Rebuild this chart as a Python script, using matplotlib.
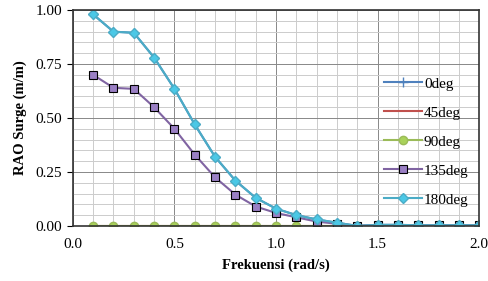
import numpy as np
import matplotlib.pyplot as plt
from matplotlib.ticker import MultipleLocator

freq = [0.1, 0.2, 0.3, 0.4, 0.5, 0.6, 0.7, 0.8, 0.9, 1.0,
        1.1, 1.2, 1.3, 1.4, 1.5, 1.6, 1.7, 1.8, 1.9, 2.0]
rao_0 = [0.98, 0.90, 0.895, 0.78, 0.635, 0.47, 0.32, 0.21, 0.13, 0.08,
         0.05, 0.03, 0.015, 0.0, 0.005, 0.005, 0.003, 0.003, 0.003, 0.003]
rao_45 = [0.0] * 20
rao_90 = [0.0] * 20
rao_135 = [0.70, 0.64, 0.635, 0.55, 0.45, 0.33, 0.225, 0.145, 0.09, 0.06,
           0.04, 0.02, 0.01, 0.0, 0.004, 0.003, 0.002, 0.002, 0.002, 0.002]
rao_180 = [0.98, 0.90, 0.895, 0.78, 0.635, 0.47, 0.32, 0.21, 0.13, 0.08,
           0.05, 0.03, 0.015, 0.0, 0.005, 0.005, 0.003, 0.003, 0.003, 0.003]

plt.rcParams['font.family'] = ['Liberation Serif', 'DejaVu Serif']

fig = plt.figure(figsize=(4.89, 2.81), dpi=100)
ax = fig.add_axes([0.149, 0.196, 0.831, 0.768])

ax.plot(freq, rao_0, color='#4f81bd', marker='+', ms=7, lw=1.5, label='0deg')
ax.plot(freq, rao_45, color='#c0504d', lw=1.5, label='45deg')
ax.plot(freq, rao_90, color='#9bbb59', marker='o', ms=6, mfc='#a9d25a',
        mec='#9bbb59', lw=1.5, label='90deg')
ax.plot(freq, rao_135, color='#8064a2', marker='s', ms=6, mfc='#9a7fc4',
        mec='black', mew=0.8, lw=1.5, label='135deg')
ax.plot(freq, rao_180, color='#4bacc6', marker='D', ms=5, mfc='#4bc8e6',
        mec='#4bacc6', lw=1.5, label='180deg')

ax.set_xlim(0, 2.0)
ax.set_ylim(0, 1.0)
ax.xaxis.set_major_locator(MultipleLocator(0.5))
ax.xaxis.set_minor_locator(MultipleLocator(0.1))
ax.yaxis.set_major_locator(MultipleLocator(0.25))
ax.yaxis.set_minor_locator(MultipleLocator(0.05))
ax.xaxis.set_major_formatter(plt.FormatStrFormatter('%.1f'))
ax.yaxis.set_major_formatter(plt.FormatStrFormatter('%.2f'))
ax.grid(which='major', color='#888888', lw=0.7)
ax.grid(which='minor', color='#cccccc', lw=0.7)
ax.set_axisbelow(True)
ax.tick_params(which='minor', length=0)
ax.tick_params(axis='x', which='major', length=0, pad=9, labelsize=11)
ax.tick_params(axis='y', which='major', length=4, labelsize=11)
for s in ax.spines.values():
    s.set_color('#333333')
    s.set_linewidth(1.2)

ax.set_xlabel('Frekuensi (rad/s)', fontsize=10.5, fontweight='bold', labelpad=5)
ax.set_ylabel('RAO Surge (m/m)', fontsize=10.5, fontweight='bold', labelpad=6)

leg = ax.legend(loc='center right', bbox_to_anchor=(1.0, 0.39), frameon=False,
                fontsize=11, handlelength=2.5, labelspacing=1.0,
                handletextpad=0.1, borderaxespad=0.3)

fig.savefig('out.png', dpi=100)
